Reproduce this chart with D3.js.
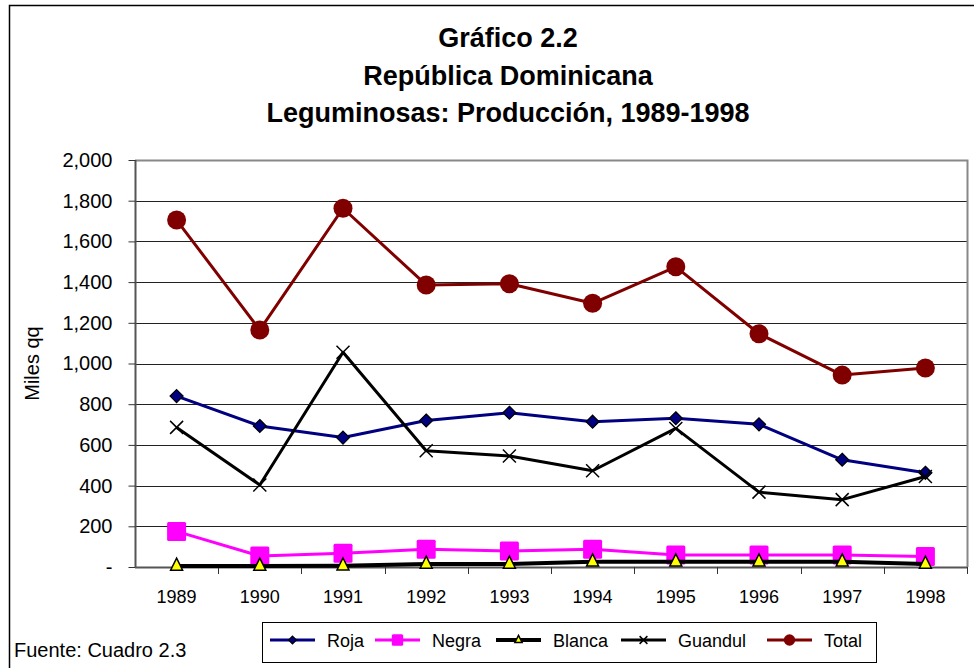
<!DOCTYPE html>
<html>
<head>
<meta charset="utf-8">
<script src="https://cdn.jsdelivr.net/npm/d3@7"></script>
<style>
  body { margin: 0; background: #fff; }
  svg { font-family: "Liberation Sans", Arial, sans-serif; }
</style>
</head>
<body>
<svg id="svg1" width="974" height="668"></svg>
<script>

// data (miles de quintales)
var years = ["1989","1990","1991","1992","1993","1994","1995","1996","1997","1998"];
var roja    = [840, 693, 636, 720, 758, 714, 731, 701, 527, 463];
var negra   = [175, 54, 68, 87, 79, 87, 59, 59, 59, 51];
var blanca  = [5, 5, 6, 15, 15, 26, 26, 26, 26, 15];
var guandul = [686, 403, 1055, 571, 545, 473, 681, 368, 331, 445];
var total   = [1705, 1165, 1763, 1386, 1392, 1296, 1475, 1146, 943, 978];
var yTicks  = [0, 200, 400, 600, 800, 1000, 1200, 1400, 1600, 1800, 2000];

var series = [
  {name: "Roja",    values: roja,    color: "#000080", width: 3, marker: "diamond"},
  {name: "Negra",   values: negra,   color: "#ff00ff", width: 3, marker: "square"},
  {name: "Blanca",  values: blanca,  color: "#000000", width: 4, marker: "triangle"},
  {name: "Guandul", values: guandul, color: "#000000", width: 3, marker: "cross"},
  {name: "Total",   values: total,   color: "#800000", width: 3, marker: "circle"}
];

var svg = d3.select("#svg1");

// outer chart frame (right and bottom are cut off in the original)
svg.append("path")
    .attr("d", "M9.5,668 V5.5 H974")
    .attr("fill", "none")
    .attr("stroke", "#000")
    .attr("stroke-width", 1.5);

// titles
var titles = ["Gráfico 2.2", "República Dominicana", "Leguminosas: Producción, 1989-1998"];
svg.selectAll(".title")
    .data(titles)
  .enter().append("text")
    .attr("x", 508)
    .attr("y", function(d, i) { return 47 + i * 37.5; })
    .attr("text-anchor", "middle")
    .style("font-size", "27px")
    .style("font-weight", "bold")
    .text(function(d) { return d; });

var pLeft = 135, pRight = 967, pTop = 160, pBottom = 567;

var x = d3.scaleBand()
    .domain(years)
    .range([pLeft, pRight]);

var y = d3.scaleLinear()
    .domain([0, 2000])
    .range([pBottom, pTop]);

// gridlines
svg.append("g")
  .selectAll("line")
  .data(yTicks.slice(1))
  .enter().append("line")
    .attr("x1", pLeft).attr("x2", pRight)
    .attr("y1", function(d) { return Math.round(y(d)) + 0.5; })
    .attr("y2", function(d) { return Math.round(y(d)) + 0.5; })
    .attr("stroke", "#222")
    .attr("stroke-width", 1);

// plot border (top and right gray)
svg.append("path")
    .attr("d", "M" + pLeft + "," + (pTop + 0.5) + " H" + (pRight + 0.5) + " V" + pBottom)
    .attr("fill", "none")
    .attr("stroke", "#888")
    .attr("stroke-width", 2);

// Y axis
var yAxis = d3.axisLeft(y)
    .tickValues(yTicks)
    .tickSize(7)
    .tickPadding(16)
    .tickFormat(function(d) { return d === 0 ? "-" : d3.format(",")(d); });

var gy = svg.append("g")
    .attr("transform", "translate(" + (pLeft + 0.5) + ",0)")
    .call(yAxis);
gy.select(".domain").attr("stroke", "#555").attr("stroke-width", 2).attr("d", "M0," + pTop + "V" + pBottom);
gy.selectAll(".tick line").attr("stroke", "#333");
gy.selectAll(".tick text")
    .style("font-size", "20px")
    .attr("fill", "#000")
    .style("font-family", "Liberation Sans, Arial, sans-serif");

// X axis
var xAxis = d3.axisBottom(x).tickSize(0).tickPadding(23);
var gx = svg.append("g")
    .attr("transform", "translate(0," + (pBottom + 0.5) + ")")
    .call(xAxis);
gx.select(".domain").attr("stroke", "#555").attr("stroke-width", 2).attr("d", "M" + pLeft + ",0H" + pRight);
gx.selectAll(".tick text")
    .style("font-size", "18px")
    .attr("fill", "#000")
    .style("font-family", "Liberation Sans, Arial, sans-serif");

// x tick marks between categories
svg.append("g")
  .selectAll("line")
  .data(years)
  .enter().append("line")
    .attr("x1", function(d) { return Math.round(x(d) + x.bandwidth()) + 0.5; })
    .attr("x2", function(d) { return Math.round(x(d) + x.bandwidth()) + 0.5; })
    .attr("y1", pBottom).attr("y2", pBottom + 7)
    .attr("stroke", "#333");

// Y axis title
svg.append("text")
    .attr("transform", "translate(39," + ((pTop + pBottom) / 2) + ") rotate(-90)")
    .attr("text-anchor", "middle")
    .style("font-size", "20px")
    .text("Miles qq");

// markers
function drawMarker(g, type, color, cx, cy, scale) {
  scale = scale || 1;
  if (type === "circle") {
    g.append("circle").attr("cx", cx).attr("cy", cy).attr("r", 9.5 * scale).attr("fill", color);
  } else if (type === "square") {
    var s = 9.5 * scale;
    g.append("rect").attr("x", cx - s).attr("y", cy - s).attr("width", 2 * s).attr("height", 2 * s)
        .attr("rx", 1.5).attr("fill", "#ff00ff");
  } else if (type === "diamond") {
    var d = 6.5 * scale;
    g.append("path").attr("d", "M" + cx + "," + (cy - d) + "L" + (cx + d) + "," + cy + "L" + cx + "," + (cy + d) + "L" + (cx - d) + "," + cy + "Z")
        .attr("fill", "#000080").attr("stroke", "#000").attr("stroke-width", 1.2);
  } else if (type === "triangle") {
    var t = 6 * scale;
    g.append("path").attr("d", "M" + cx + "," + (cy - t * 1.3) + "L" + (cx + t) + "," + (cy + t * 0.7) + "L" + (cx - t) + "," + (cy + t * 0.7) + "Z")
        .attr("fill", "#ffff00").attr("stroke", "#000").attr("stroke-width", 1.5);
  } else if (type === "cross") {
    var c = 6.5 * scale;
    g.append("path").attr("d", "M" + (cx - c) + "," + (cy - c) + "L" + (cx + c) + "," + (cy + c) + "M" + (cx - c) + "," + (cy + c) + "L" + (cx + c) + "," + (cy - c))
        .attr("stroke", "#000").attr("stroke-width", 1.5);
  }
}

var line = d3.line()
    .x(function(d, i) { return x(years[i]) + x.bandwidth() / 2; })
    .y(function(d) { return y(d); });

// draw order: Roja, Negra, Blanca, Guandul, Total
series.forEach(function(s) {
  var g = svg.append("g");
  g.append("path")
      .datum(s.values)
      .attr("d", line)
      .attr("fill", "none")
      .attr("stroke", s.color)
      .attr("stroke-width", s.width)
      .attr("stroke-linejoin", "round");
  s.values.forEach(function(v, i) {
    drawMarker(g, s.marker, s.color, x(years[i]) + x.bandwidth() / 2, y(v));
  });
});

// source note
svg.append("text")
    .attr("x", 14)
    .attr("y", 657)
    .style("font-size", "20px")
    .text("Fuente: Cuadro 2.3");

// legend
var lg = svg.append("g");
lg.append("rect")
    .attr("x", 262.5).attr("y", 622.5)
    .attr("width", 614).attr("height", 40)
    .attr("fill", "#fff").attr("stroke", "#000").attr("stroke-width", 1);

var legendX = [270, 375, 496, 621, 767];
series.forEach(function(s, i) {
  var lx = legendX[i], ly = 640;
  lg.append("line")
      .attr("x1", lx).attr("x2", lx + 45)
      .attr("y1", ly).attr("y2", ly)
      .attr("stroke", s.color).attr("stroke-width", s.width);
  drawMarker(lg, s.marker, s.color, lx + 22.5, ly, 0.6);
  lg.append("text")
      .attr("x", lx + 57)
      .attr("y", ly + 7)
      .style("font-size", "18px")
      .text(s.name);
});

</script>
</body>
</html>
